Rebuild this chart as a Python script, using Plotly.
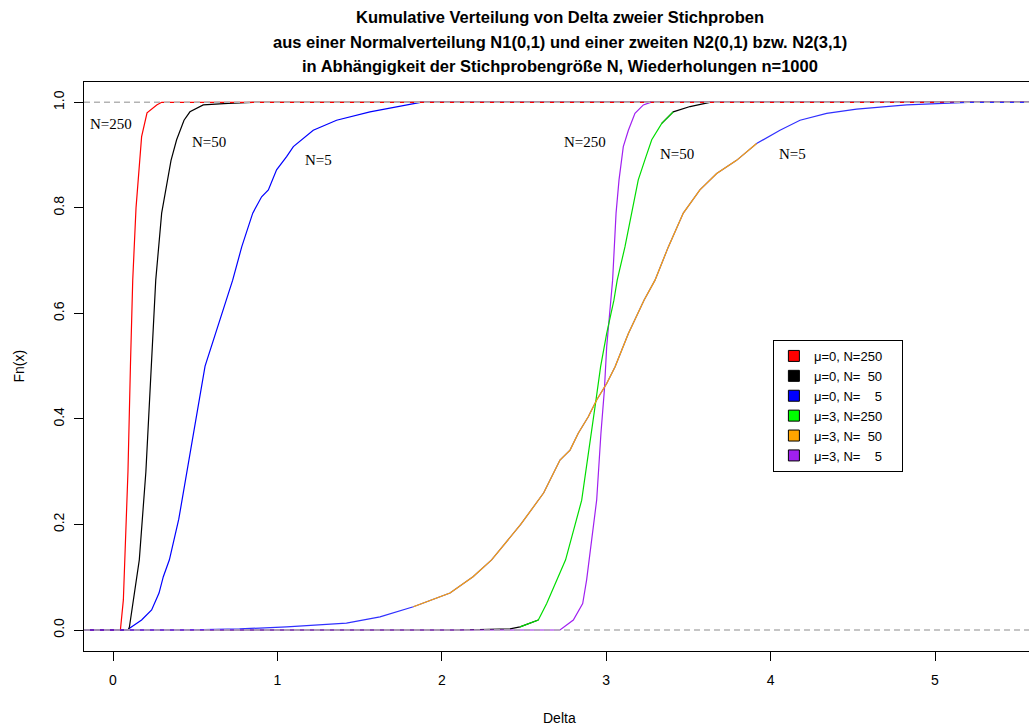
import plotly.graph_objects as go

# ---------------- data ----------------
# mu=0 curves
red_x = [-0.2, 0.045, 0.063, 0.073, 0.091, 0.106, 0.12, 0.14, 0.174, 0.207, 0.266, 0.296, 5.6]
red_F = [0, 0, 0.057, 0.133, 0.3, 0.5, 0.663, 0.8, 0.935, 0.98, 0.995, 1, 1]

black_x = [-0.2, 0.093, 0.1, 0.124, 0.134, 0.16, 0.2, 0.235, 0.26, 0.296, 0.322, 0.353, 0.387,
           0.432, 0.468, 0.549, 0.7, 0.85, 5.6]
black_F = [0, 0, 0.006, 0.057, 0.07, 0.133, 0.3, 0.5, 0.663, 0.79, 0.834, 0.89, 0.929,
           0.966, 0.982, 0.995, 0.998, 1, 1]

blue_x = [-0.2, 0.09, 0.103, 0.174, 0.235, 0.28, 0.306, 0.343, 0.40, 0.47, 0.56, 0.728, 0.783,
          0.85, 0.904, 0.945, 0.995, 1.056, 1.097, 1.218, 1.36, 1.563, 1.764, 1.87, 5.6]
blue_F = [0, 0, 0.004, 0.019, 0.038, 0.07, 0.101, 0.133, 0.21, 0.34, 0.5, 0.663, 0.726,
          0.79, 0.821, 0.834, 0.872, 0.897, 0.916, 0.947, 0.966, 0.982, 0.994, 1, 1]

# mu=3 curves
purple_x = [-0.2, 2.719, 2.80, 2.857, 2.881, 2.897, 2.942, 2.968, 2.989, 3.003, 3.027, 3.039,
            3.06, 3.078, 3.104, 3.135, 3.175, 3.226, 3.27]
purple_F = [0, 0, 0.019, 0.05, 0.095, 0.133, 0.246, 0.373, 0.455, 0.537, 0.625, 0.663,
            0.79, 0.853, 0.916, 0.947, 0.979, 0.995, 1]

green_x = [-0.2, 2.10, 2.415, 2.476, 2.587, 2.638, 2.699, 2.753, 2.851, 2.912, 2.938, 2.966,
           3.003, 3.047, 3.067, 3.114, 3.155, 3.195, 3.242, 3.277, 3.338, 3.408, 3.51, 3.63]
green_F = [0, 0, 0.002, 0.006, 0.019, 0.05, 0.095, 0.133, 0.246, 0.373, 0.436, 0.499,
           0.562, 0.625, 0.663, 0.726, 0.79, 0.853, 0.897, 0.929, 0.96, 0.982, 0.992, 1]

orange_x = [-0.2, 0.4, 0.77, 1.057, 1.42, 1.624, 1.827, 2.05, 2.19, 2.303, 2.48, 2.62, 2.719,
            2.78, 2.83, 2.891, 2.942, 3.003, 3.054, 3.135, 3.23, 3.297, 3.378, 3.469, 3.57,
            3.672, 3.793, 3.915, 4.057, 4.179, 4.341, 4.523, 4.828, 5.2, 5.6]
orange_F = [0, 0, 0.002, 0.006, 0.013, 0.025, 0.044, 0.07, 0.101, 0.133, 0.2, 0.26, 0.322,
            0.341, 0.373, 0.404, 0.436, 0.467, 0.499, 0.562, 0.625, 0.663, 0.726, 0.79, 0.834,
            0.865, 0.89, 0.922, 0.947, 0.966, 0.979, 0.987, 0.995, 1, 1]

# curve labels
label_text = ["N=250", "N=50", "N=5", "N=250", "N=50", "N=5"]
label_x = [-0.012, 0.584, 1.253, 2.871, 3.431, 4.136]
label_y = [0.959, 0.924, 0.890, 0.924, 0.902, 0.902]

# legend
NB = "\u00a0"
PAD = NB * 4
legend_labels = ["μ=0, N=250" + PAD, "μ=0, N=" + NB * 2 + "50" + PAD, "μ=0, N=" + NB * 4 + "5" + PAD,
                 "μ=3, N=250" + PAD, "μ=3, N=" + NB * 2 + "50" + PAD, "μ=3, N=" + NB * 4 + "5" + PAD]
legend_colors = ["#FF0000", "#000000", "#0000FF", "#00FF00", "#FFA500", "#A020F0"]

title_lines = ["Kumulative Verteilung von Delta zweier Stichproben",
               "aus einer Normalverteilung N1(0,1) und einer zweiten N2(0,1) bzw. N2(3,1)",
               "in Abhängigkeit der Stichprobengröße N, Wiederholungen n=1000"]
x_ticks = [0, 1, 2, 3, 4, 5]
y_ticks = [0.0, 0.2, 0.4, 0.6, 0.8, 1.0]
y_ticklabels = ["0.0", "0.2", "0.4", "0.6", "0.8", "1.0"]

SANS = "Liberation Sans, Arial, Helvetica, sans-serif"
SERIF = "Liberation Serif, Times New Roman, serif"

fig = go.Figure()

def line(x, y, color, width=1.2):
    fig.add_trace(go.Scatter(x=x, y=y, mode="lines", line=dict(color=color, width=width),
                             showlegend=False, hoverinfo="skip"))

def part(x, y, keep):
    pts = [(a, b) for a, b in zip(x, y) if keep(b)]
    return [p[0] for p in pts], [p[1] for p in pts]

# mu = 0
line(blue_x, blue_F, "#0000FF")
line(black_x, black_F, "#000000")
line(red_x, red_F, "#FF0000")
# mu = 3 (the tails show the mu=0 colours underneath)
bx, by = part(green_x, green_F, lambda f: f <= 0.02)
line(bx, by, "#000000")
bx, by = part(green_x, green_F, lambda f: f >= 0.96)
line(bx, by, "#000000")
line(orange_x, orange_F, "#3030FF")
line(purple_x, purple_F, "#A020F0")
gx, gy = part(green_x, green_F, lambda f: 0.006 <= f <= 0.982)
line(gx, gy, "#00DD00")
ox, oy = part(orange_x, orange_F, lambda f: 0.03 <= f <= 0.93)
line(ox, oy, "#FFA500")

# legend entries
for lab, col in zip(legend_labels, legend_colors):
    fig.add_trace(go.Scatter(x=[None], y=[None], mode="markers", name=lab,
                             marker=dict(symbol="square", size=11, color=col,
                                         line=dict(color="black", width=1))))

# gray dashed lines at 0 and 1
for h in (0, 1):
    fig.add_shape(type="line", xref="paper", x0=0, x1=1, yref="y", y0=h, y1=h,
                  line=dict(color="#B3B3B3", width=1.5, dash="6px,4px"), layer="above")

# curve labels
for t, x, y in zip(label_text, label_x, label_y):
    fig.add_annotation(x=x, y=y, text=t, showarrow=False, xref="x", yref="y",
                       xanchor="center", yanchor="middle",
                       font=dict(family=SERIF, size=15, color="black"))

# title lines
for t, yy in zip(title_lines, [1.114, 1.0703, 1.028]):
    fig.add_annotation(x=0.5037, y=yy, xref="paper", yref="paper", text="<b>%s</b>" % t,
                       showarrow=False, font=dict(family=SANS, size=16.5, color="black"),
                       xanchor="center", yanchor="middle")

# axis titles
fig.add_annotation(x=0.5037, y=-0.1178, xref="paper", yref="paper", text="Delta",
                   xanchor="center", yanchor="middle",
                   showarrow=False, font=dict(family=SANS, size=14, color="black"))
fig.add_annotation(x=-0.0698, y=0.5, xref="paper", yref="paper", text="Fn(x)", textangle=-90,
                   xanchor="center", yanchor="middle",
                   showarrow=False, font=dict(family=SANS, size=14, color="black"))

fig.update_layout(
    width=1029, height=727,
    margin=dict(l=84, r=0, t=82, b=76),
    paper_bgcolor="white", plot_bgcolor="white",
    font=dict(family=SANS, size=14, color="black"),
    xaxis=dict(range=[-0.1764, 5.5718], showgrid=False, zeroline=False,
               showline=True, linecolor="black", linewidth=1, mirror=True,
               ticks="outside", ticklen=9, tickcolor="black", tickwidth=1,
               tickvals=x_ticks, ticktext=[str(v) for v in x_ticks],
               ticklabelstandoff=7, tickfont=dict(size=14, family=SANS)),
    yaxis=dict(range=[-0.0398, 1.0385], showgrid=False, zeroline=False,
               showline=True, linecolor="black", linewidth=1, mirror=False,
               ticks="outside", ticklen=9, tickcolor="black", tickwidth=1,
               tickvals=y_ticks, ticktext=y_ticklabels, tickangle=-90,
               ticklabelstandoff=4, tickfont=dict(size=14, family=SANS)),
    legend=dict(x=0.729, y=0.5466, xanchor="left", yanchor="top",
                bordercolor="black", borderwidth=1, bgcolor="white",
                font=dict(family=SANS, size=13, color="black"),
                tracegroupgap=0, itemclick=False),
    showlegend=True,
)

fig.write_html("out.html")
